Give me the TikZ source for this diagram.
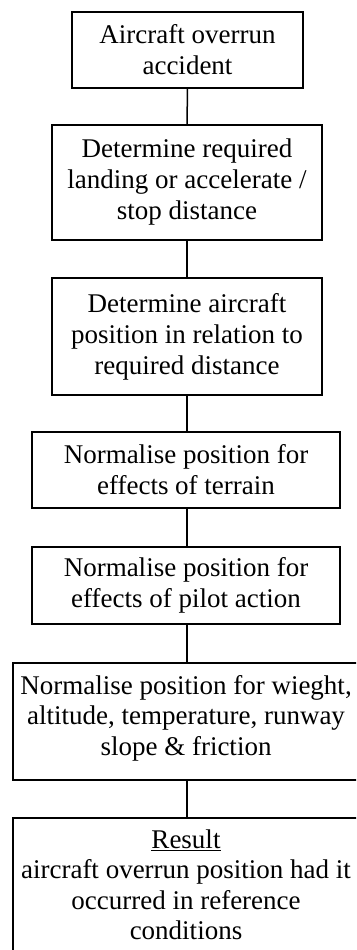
\documentclass[tikz,border=0pt]{standalone}
\usepackage{fontspec}
\setmainfont{Liberation Serif}
\begin{document}
\begin{tikzpicture}[x=1pt,y=1pt,
  stepbox/.style={draw, line width=1.5pt, align=center, inner sep=0pt,
    font=\fontsize{27}{31}\selectfont},
  frame/.style={draw, line width=1.5pt, inner sep=0pt},
  txt/.style={align=center, inner sep=0pt, font=\fontsize{27}{30.5}\selectfont},
  link/.style={line width=1.5pt}]
\useasboundingbox (0,0) rectangle (356,-950);
\clip (0,0) rectangle (356,-950);
\node[stepbox, minimum width=231pt, minimum height=76pt] (b1) at (187.5,-50) {Aircraft overrun\\accident};
\node[stepbox, minimum width=270pt, minimum height=115pt] (b2) at (187,-182.5) {Determine required\\landing or accelerate /\\stop distance};
\node[stepbox, minimum width=270pt, minimum height=117pt] (b3) at (187,-336.5) {Determine aircraft\\position in relation to\\required distance};
\node[stepbox, minimum width=308pt, minimum height=76pt] (b4) at (186,-470) {Normalise position for\\effects of terrain};
\node[stepbox, minimum width=308pt, minimum height=77pt] (b5) at (186,-585.5) {Normalise position for\\effects of pilot action};
\node[frame, minimum width=370pt, minimum height=117pt] (b6) at (198,-721.5) {};
\node[txt] (t6) at (186,-718) {Normalise position for wieght,\\altitude, temperature, runway\\slope \& friction};
\node[frame, minimum width=370pt, minimum height=180pt] (b7) at (198,-908) {};
\node[txt] (t7) at (186,-885) {\underline{Result}\\aircraft overrun position had it\\occurred in reference\\conditions};
\draw[link] (b1.south) -- (b2.north);
\draw[link] (b2.south) -- (b3.north);
\draw[link] (b3.south) -- (b4.north -| b3.south);
\draw[link] (b4.south -| b3.south) -- (b5.north -| b3.south);
\draw[link] (b5.south -| b3.south) -- (b6.north -| b3.south);
\draw[link] (b6.south -| b3.south) -- (b7.north -| b3.south);
\end{tikzpicture}
\end{document}
